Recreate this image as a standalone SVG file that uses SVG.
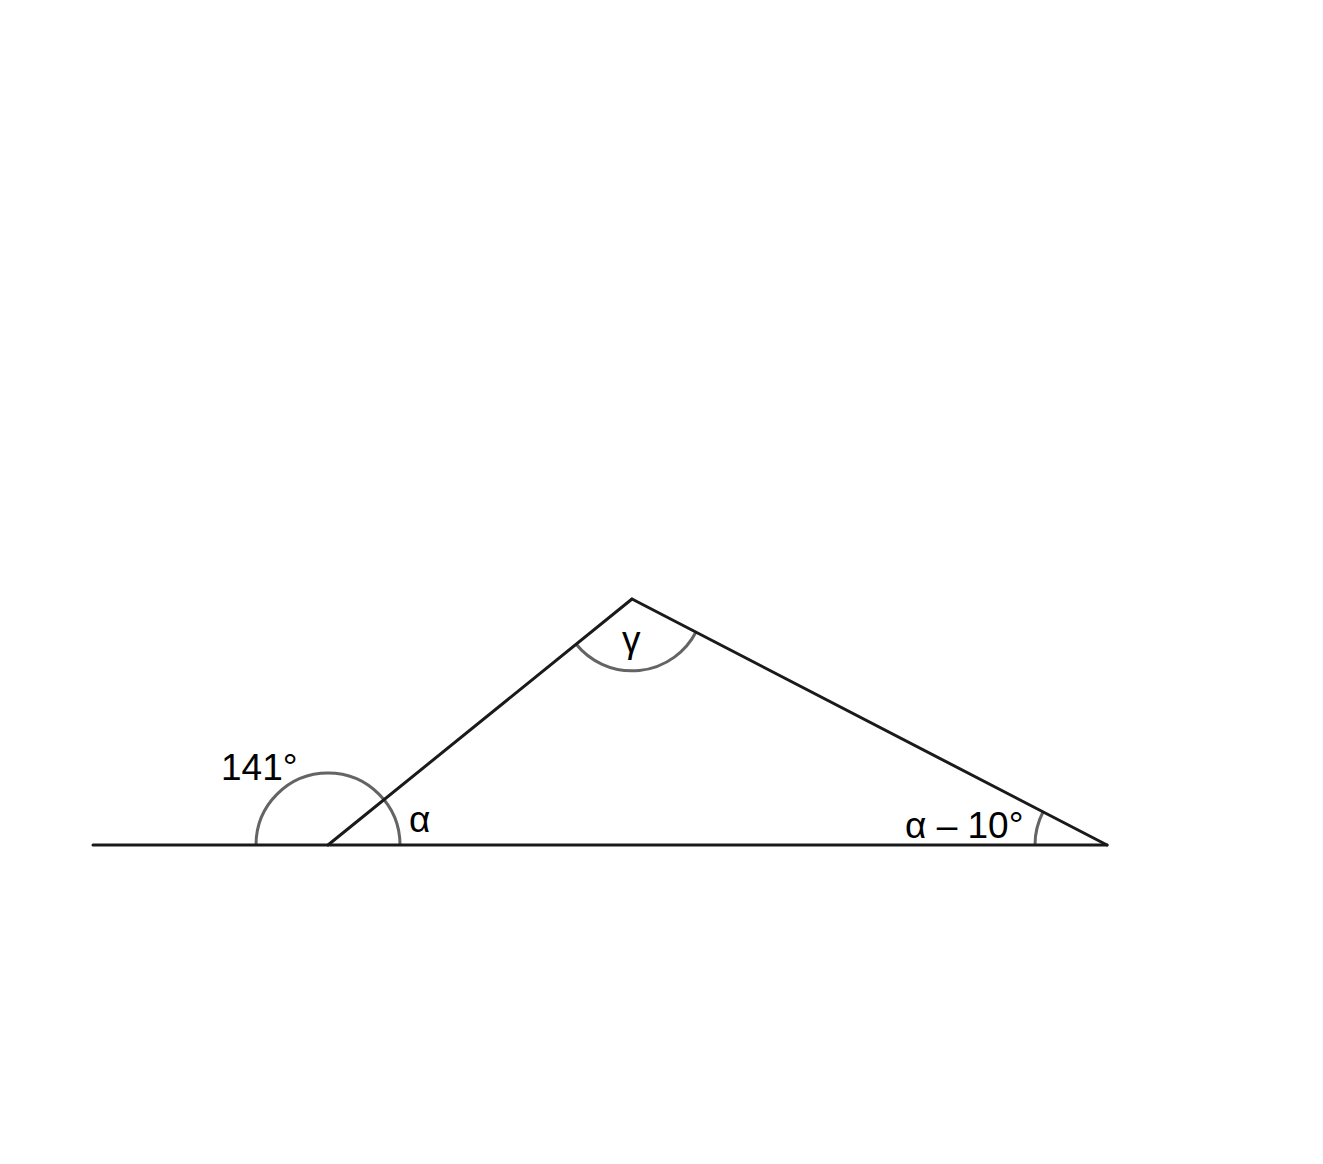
<svg xmlns="http://www.w3.org/2000/svg" width="1323" height="1164" viewBox="0 0 1323 1164">
<style>
.ln{stroke:#1a1a1a;stroke-width:3;fill:none;stroke-linecap:round}
.arc{stroke:#646464;stroke-width:3;fill:none}
.t{font-size:37px;fill:#000}
</style>
<rect width="1323" height="1164" fill="#fff"/>
<g id="arcs">
<path class="arc" d="M400,845 A72,72 0 0 0 256,845"/>
<path class="arc" d="M576,644 A72,72 0 0 0 696,632"/>
<path class="arc" d="M1035,845 A72,72 0 0 1 1043,812"/>
</g>
<g id="connectors">
<line class="ln" x1="93" y1="845" x2="1107" y2="845"/>
<line class="ln" x1="328" y1="845" x2="632" y2="599"/>
<line class="ln" x1="632" y1="599" x2="1107" y2="845"/>
</g>
<g id="labels" font-family="Liberation Sans, sans-serif">
<text class="t" x="221" y="780">141°</text>
<text class="t" x="409" y="832">α</text>
<text class="t" x="622" y="652">γ</text>
<text class="t" x="905" y="838">α – 10°</text>
</g>
</svg>
